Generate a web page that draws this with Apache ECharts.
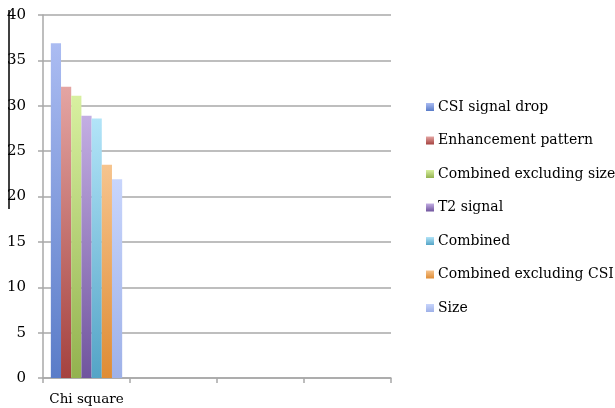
<!DOCTYPE html>
<html>
<head>
<meta charset="utf-8">
<script src="https://cdn.jsdelivr.net/npm/echarts@6/dist/echarts.min.js"></script>
<style>
  html, body { margin: 0; padding: 0; background: #fff; }
  #chart { width: 615px; height: 408px; }
</style>
</head>
<body>
<div id="chart"></div>
<script>
// Categories on the x axis (only the first one carries values)
const categories = ['Chi square', '', '', ''];

// Predictors and their chi-square statistic
const seriesNames = [
  'CSI signal drop',
  'Enhancement pattern',
  'Combined excluding size',
  'T2 signal',
  'Combined',
  'Combined excluding CSI',
  'Size'
];
const chiSquare = [36.9, 32.1, 31.1, 28.9, 28.6, 23.5, 21.9];

// Y axis ticks
const yTicks = [0, 5, 10, 15, 20, 25, 30, 35, 40];

// Light-top / dark-bottom fill per series
const palette = [
  ['#abbcf2', '#5a7cc8'],
  ['#e4a5a3', '#a5423f'],
  ['#d8f0a0', '#93b24f'],
  ['#c3aee3', '#70549e'],
  ['#b2e4f8', '#54a4c6'],
  ['#f6c48e', '#df8c34'],
  ['#c8d5fc', '#9eb1e8']
];

const serif = 'DejaVu Serif';

const series = seriesNames.map((name, i) => ({
  name,
  type: 'bar',
  barGap: '0%',
  barCategoryGap: '18%',
  itemStyle: {
    color: new echarts.graphic.LinearGradient(0, 0, 0, 1, [
      { offset: 0, color: palette[i][0] },
      { offset: 1, color: palette[i][1] }
    ])
  },
  data: categories.map((c, k) => (k === 0 ? chiSquare[i] : null))
}));

const chart = echarts.init(document.getElementById('chart'), null, { renderer: 'canvas' });
chart.setOption({
  animation: false,
  backgroundColor: '#fff',
  grid: { left: 43, right: 224, top: 15, bottom: 30, containLabel: false },
  legend: {
    orient: 'vertical',
    left: 421,
    top: 94,
    itemWidth: 8,
    itemHeight: 8,
    itemGap: 17.5,
    icon: 'rect',
    textStyle: { fontFamily: serif, fontSize: 14, color: '#000', lineHeight: 16, padding: [0, 0, 0, -1] },
    data: seriesNames
  },
  xAxis: {
    type: 'category',
    data: categories,
    axisLine: { lineStyle: { color: '#a8a8a8', width: 1.5 } },
    axisTick: { show: true, interval: 0, length: 5, alignWithLabel: false, lineStyle: { color: '#a8a8a8', width: 1.5 } },
    axisLabel: { interval: 0, fontFamily: serif, fontSize: 13.5, color: '#000', margin: 14 },
    splitLine: { show: false }
  },
  yAxis: {
    type: 'value',
    min: yTicks[0],
    max: yTicks[yTicks.length - 1],
    interval: 5,
    axisLine: { show: true, lineStyle: { color: '#a8a8a8', width: 1.5 } },
    axisTick: { show: true, length: 5, lineStyle: { color: '#a8a8a8', width: 1.5 } },
    axisLabel: { fontFamily: serif, fontSize: 15, color: '#000', margin: 17, padding: [3, 0, 0, 0] },
    splitLine: { show: true, lineStyle: { color: '#a8a8a8', width: 1.5 } }
  },
  graphic: [
    {
      type: 'line',
      shape: { x1: 9, y1: 10, x2: 9, y2: 209 },
      style: { stroke: '#000', lineWidth: 1.5 }
    }
  ],
  series
});
</script>
</body>
</html>
